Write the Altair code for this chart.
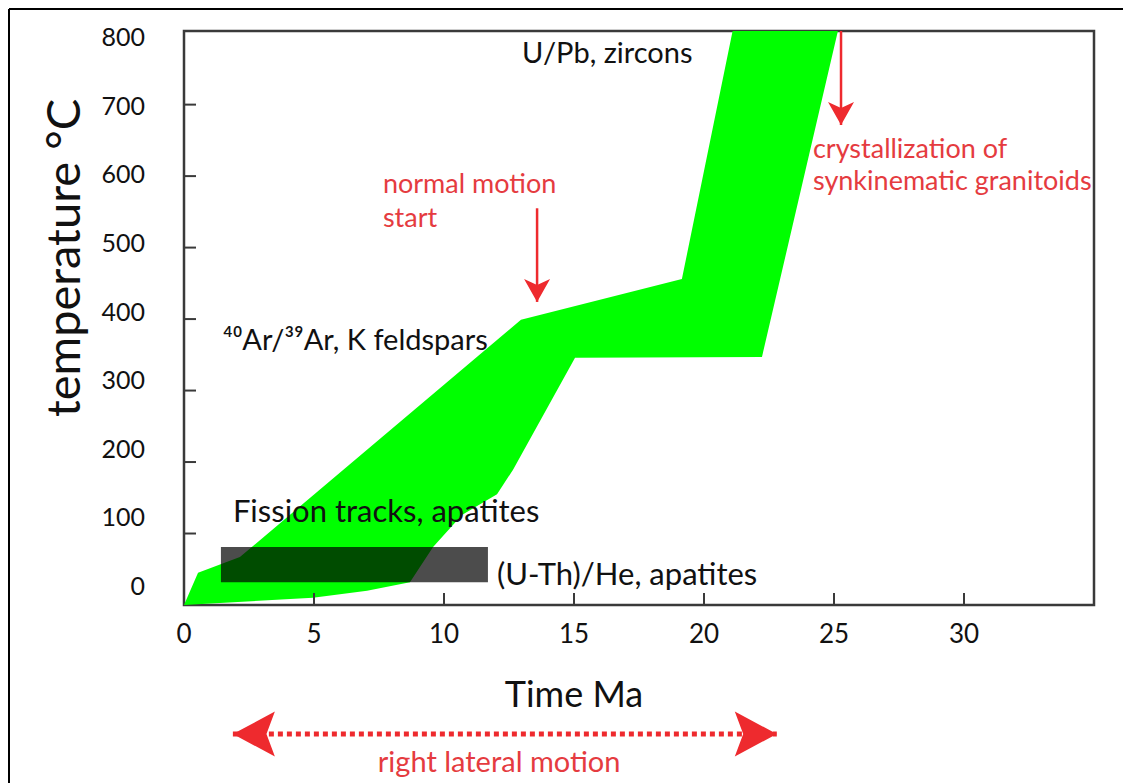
import altair as alt
import pandas as pd

# ---------------- values ----------------
# Green cooling-path envelope: outline listed in drawing order (time Ma, temperature °C)
env_time = [0.0, 0.54, 2.15, 12.96, 19.15, 21.1, 25.15, 22.23, 15.04, 12.65, 12.04, 10.69, 9.58, 8.69, 7.04, 4.96, 0.0]
env_temp = [0, 45, 67, 399, 456, 803, 803, 347, 346, 189, 155, 126, 81, 32, 20, 10, 0]

# Grey box ((U-Th)/He / fission-track window)
box_time = [1.42, 11.69]
box_temp = [32, 81]

# Axis ticks / tick labels
x_ticks = [0, 5, 10, 15, 20, 25, 30]
y_ticks = [0, 100, 200, 300, 400, 500, 600, 700, 800]

# Red vertical arrows (time, start temperature, tip temperature)
arrow_time = [13.58, 25.27]
arrow_top = [555, 803]
arrow_tip = [424, 671.5]

# Right-lateral-motion double arrow (time span, level below the axis)
lateral_time = [1.88, 22.8]
lateral_level = [-180.5]

# Annotations
big_text = ["U/Pb, zircons", "\u2074\u2070Ar/\u00b3\u2079Ar, K feldspars"]
big_time = [13.0, 1.5]
big_temp = [758, 356.7]

box_text = ["Fission tracks, apatites", "(U-Th)/He, apatites"]
box_text_time = [1.88, 12.04]
box_text_temp = [116, 28]

red_text = ["normal motion", "start", "crystallization of", "synkinematic granitoids"]
red_time = [7.65, 7.65, 24.19, 24.19]
red_temp = [576.4, 528.8, 625.4, 580.6]

lateral_text = ["right lateral motion"]
lateral_text_time = [12.12]
lateral_text_temp = [-233.6]

x_title = "Time Ma"
y_title = "temperature °C"

# ---------------- chart ----------------
W, H = 910, 574
FONT = "Lato"
INK = "#111111"
FRAME = "#3a3a3a"
RED_ARROW = "#ee2a2e"
RED_TEXT = "#e53b40"

xs = alt.Scale(domain=[0, 35], nice=False, zero=False)
ys = alt.Scale(domain=[0, 803], nice=False, zero=False)


def X(field):
    return alt.X(field, scale=xs, axis=None)


def Y(field):
    return alt.Y(field, scale=ys, axis=None)


env_df = pd.DataFrame({"time": env_time, "temp": env_temp, "order": list(range(len(env_time)))})
envelope = alt.Chart(env_df).mark_line(filled=True, color="#00ff00", strokeWidth=0).encode(
    x=X("time:Q"), y=Y("temp:Q"), order=alt.Order("order:Q"))

box_df = pd.DataFrame({"t0": [box_time[0]], "t1": [box_time[1]], "T0": [box_temp[0]], "T1": [box_temp[1]]})
box = alt.Chart(box_df).mark_rect(color="black", opacity=0.7).encode(
    x=X("t0:Q"), x2="t1:Q", y=Y("T0:Q"), y2="T1:Q")

# inward ticks
xt = alt.Chart(pd.DataFrame({"v": x_ticks[1:]})).mark_rule(color=FRAME, strokeWidth=2).encode(
    x=X("v:Q"), y=alt.value(H - 12), y2=alt.value(H))
yt = alt.Chart(pd.DataFrame({"v": y_ticks[1:-1]})).mark_rule(color=FRAME, strokeWidth=2).encode(
    y=Y("v:Q"), x=alt.value(0), x2=alt.value(12))

# x tick labels
xl_df = pd.DataFrame({"v": x_ticks, "lab": [str(v) for v in x_ticks]})
xlab = alt.Chart(xl_df).mark_text(align="center", baseline="alphabetic", font=FONT, fontSize=26, color=INK).encode(
    x=X("v:Q"), y=alt.value(H + 38), text="lab:N")

# axis titles
xtitle = alt.Chart(pd.DataFrame({"txt": [x_title]})).mark_text(
    align="center", baseline="alphabetic", font=FONT, fontSize=36, color=INK).encode(
    x=alt.value(390), y=alt.value(H + 102), text="txt:N")
ytitle = alt.Chart(pd.DataFrame({"txt": [y_title]})).mark_text(
    align="center", baseline="alphabetic", font=FONT, fontSize=47, color=INK, angle=270).encode(
    x=alt.value(-104), y=alt.value(227), text="txt:N")

arr_df = pd.DataFrame({"t": arrow_time, "top": arrow_top, "tip": arrow_tip})
shafts = alt.Chart(arr_df).mark_rule(color=RED_ARROW, strokeWidth=2.5).encode(
    x=X("t:Q"), y=Y("top:Q"), y2="tip:Q")
heads = alt.Chart(arr_df).mark_point(
    shape="M0,0L-1,-1.76L0,-1.3L1,-1.76Z", filled=True, color=RED_ARROW, size=676, opacity=1, strokeWidth=0
).encode(x=X("t:Q"), y=Y("tip:Q"))

lat_df = pd.DataFrame({"t0": [lateral_time[0]], "t1": [lateral_time[1]], "T": lateral_level})
lat_line = alt.Chart(lat_df).mark_rule(color=RED_ARROW, strokeWidth=5, strokeDash=[5, 4]).encode(
    x=X("t0:Q"), x2="t1:Q", y=Y("T:Q"))
lat_left = alt.Chart(lat_df).mark_point(
    shape="M0,0L2,-1.07L1.6,0L2,1.07Z", filled=True, color=RED_ARROW, size=1764, opacity=1, strokeWidth=0
).encode(x=X("t0:Q"), y=Y("T:Q"))
lat_right = alt.Chart(lat_df).mark_point(
    shape="M0,0L-2,-1.07L-1.6,0L-2,1.07Z", filled=True, color=RED_ARROW, size=1764, opacity=1, strokeWidth=0
).encode(x=X("t1:Q"), y=Y("T:Q"))

big_df = pd.DataFrame({"txt": big_text, "t": big_time, "T": big_temp})
big = alt.Chart(big_df).mark_text(align="left", baseline="alphabetic", font=FONT, fontSize=29, color=INK).encode(
    x=X("t:Q"), y=Y("T:Q"), text="txt:N")

bt_df = pd.DataFrame({"txt": box_text, "t": box_text_time, "T": box_text_temp})
bt = alt.Chart(bt_df).mark_text(align="left", baseline="alphabetic", font=FONT, fontSize=31, color=INK).encode(
    x=X("t:Q"), y=Y("T:Q"), text="txt:N")

red_df = pd.DataFrame({"txt": red_text, "t": red_time, "T": red_temp})
red = alt.Chart(red_df).mark_text(align="left", baseline="alphabetic", font=FONT, fontSize=27, color=RED_TEXT).encode(
    x=X("t:Q"), y=Y("T:Q"), text="txt:N")

lt_df = pd.DataFrame({"txt": lateral_text, "t": lateral_text_time, "T": lateral_text_temp})
lat_txt = alt.Chart(lt_df).mark_text(align="center", baseline="alphabetic", font=FONT, fontSize=29, color=RED_TEXT).encode(
    x=X("t:Q"), y=Y("T:Q"), text="txt:N")

one = pd.DataFrame({"k": [0]})
frame_top = alt.Chart(one).mark_rule(color="black", strokeWidth=2).encode(
    x=alt.value(-175), x2=alt.value(W + 29), y=alt.value(-22))
frame_left = alt.Chart(one).mark_rule(color="black", strokeWidth=2).encode(
    x=alt.value(-175), y=alt.value(-22), y2=alt.value(H + 190))

main = alt.layer(envelope, box, xt, yt, xlab, xtitle, ytitle, shafts, heads, lat_line, lat_left, lat_right,
                 big, bt, red, lat_txt, frame_top, frame_left)

ylab_df = pd.DataFrame({"v": y_ticks, "lab": [str(v) for v in y_ticks]})
ylab = alt.Chart(ylab_df).mark_text(align="right", baseline="middle", font=FONT, fontSize=25, color=INK).encode(
    y=alt.Y("v:Q", scale=alt.Scale(domain=[-26, 810], nice=False, zero=False), axis=None),
    x=alt.value(-39), text="lab:N")

chart = alt.layer(main, ylab).resolve_scale(y="independent").properties(
    width=W, height=H,
    autosize=alt.AutoSizeParams(type="none"),
    padding={"left": 176, "top": 23, "right": 29, "bottom": 178},
).configure(background="white").configure_view(stroke=FRAME, strokeWidth=2.5)

chart.save("out.html", embed_options={"renderer": "svg", "actions": False})
